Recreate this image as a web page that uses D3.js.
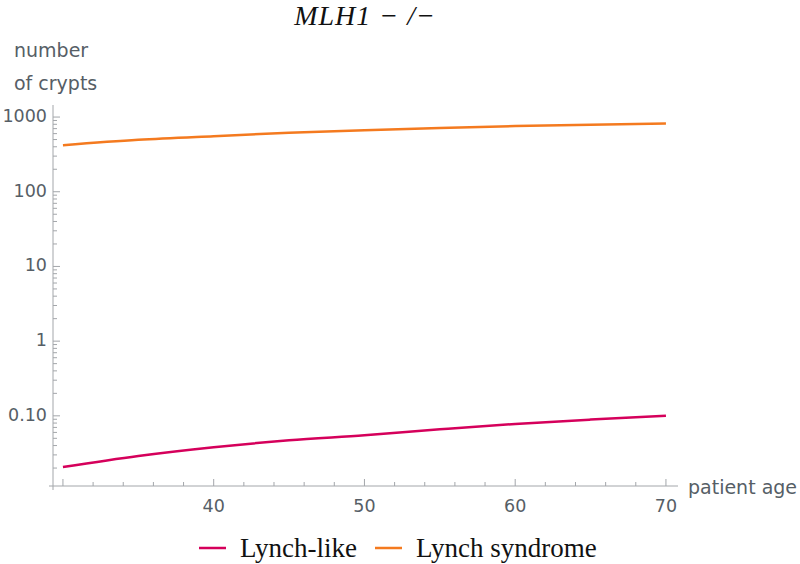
<!DOCTYPE html>
<html>
<head>
<meta charset="utf-8">
<script src="https://cdn.jsdelivr.net/npm/d3@7"></script>
<style>
  body { margin: 0; background: #fff; }
  svg { display: block; }
</style>
</head>
<body>
<div id="canvas"></div>
<script>
// patient age, and crypt counts
const ages = [30, 35, 40, 45, 50, 55, 60, 65, 70];
const lynchLike = [0.0206, 0.029, 0.038, 0.047, 0.055, 0.066, 0.078, 0.089, 0.100];
const lynchSyndrome = [420, 495, 555, 615, 668, 715, 757, 790, 818];
const seriesNames = ["Lynch-like", "Lynch syndrome"];
const seriesColors = ["#d5005b", "#f47a1f"];
const xTicks = [40, 50, 60, 70];
const yTicks = [0.1, 1, 10, 100, 1000];
const yTickLabels = ["0.10", "1", "10", "100", "1000"];

const width = 800, height = 564;
const margin = { top: 105, left: 53, bottom: 78, right: 122 };
const iwidth = width - margin.left - margin.right;
const iheight = height - margin.top - margin.bottom;

const svg = d3.select("#canvas").append("svg")
  .attr("width", width).attr("height", height);

const g = svg.append("g").attr("transform", `translate(${margin.left},${margin.top})`);

const x = d3.scaleLinear().domain([29.34, 70.8]).range([0, iwidth]);
const y = d3.scaleLog().domain([0.0115, 1450]).range([iheight, 0]);

const axisColor = "#a3a6aa";
const textColor = "#565e66";
const sans = "'DejaVu Sans', Verdana, sans-serif";
const serif = "'Liberation Serif', 'DejaVu Serif', serif";

// axes lines
g.append("line").attr("x1", 0).attr("x2", 0).attr("y1", 0).attr("y2", iheight + 4)
  .attr("stroke", axisColor).attr("stroke-width", 1);
g.append("line").attr("x1", -4).attr("x2", iwidth).attr("y1", iheight).attr("y2", iheight)
  .attr("stroke", axisColor).attr("stroke-width", 1);

// x ticks (inside, pointing up)
const xMinor = d3.range(30, 71, 2);
g.selectAll(".xminor").data(xMinor).enter().append("line")
  .attr("x1", d => x(d)).attr("x2", d => x(d))
  .attr("y1", iheight).attr("y2", d => iheight - (d % 10 === 0 ? 7 : 4))
  .attr("stroke", axisColor);
g.selectAll(".xlab").data(xTicks).enter().append("text")
  .attr("x", d => x(d)).attr("y", iheight + 26)
  .attr("text-anchor", "middle").attr("font-family", sans).attr("font-size", 17.5)
  .attr("fill", textColor).text(d => d);

// y ticks (log minors)
const yMinor = [];
[0.01, 0.1, 1, 10, 100, 1000].forEach(dec => {
  for (let k = 1; k <= 9; k++) {
    const v = dec * k;
    if (v >= y.domain()[0] && v <= y.domain()[1]) yMinor.push(v);
  }
});
g.selectAll(".yminor").data(yMinor).enter().append("line")
  .attr("x1", 0).attr("x2", d => (yTicks.some(t => Math.abs(t - d) < 1e-9) ? 7 : 4))
  .attr("y1", d => y(d)).attr("y2", d => y(d))
  .attr("stroke", axisColor);
g.selectAll(".ylab").data(yTicks).enter().append("text")
  .attr("x", -6).attr("y", d => y(d) + 5)
  .attr("text-anchor", "end").attr("font-family", sans).attr("font-size", 17.5)
  .attr("fill", textColor).text((d, i) => yTickLabels[i]);

// axis labels
svg.append("text").attr("x", 14).attr("y", 57).attr("font-family", sans).attr("font-size", 19)
  .attr("fill", textColor).text("number");
svg.append("text").attr("x", 14).attr("y", 90).attr("font-family", sans).attr("font-size", 19)
  .attr("fill", textColor).text("of crypts");
svg.append("text").attr("x", 688).attr("y", 494).attr("font-family", sans).attr("font-size", 19)
  .attr("fill", textColor).text("patient age");

// title
svg.append("text").attr("x", 365).attr("y", 25).attr("text-anchor", "middle")
  .attr("font-family", serif).attr("font-style", "italic").attr("font-size", 28)
  .attr("letter-spacing", 1)
  .attr("fill", "#111").text("MLH1 − /−");

// curves
const line = d3.line().x(d => x(d[0])).y(d => y(d[1])).curve(d3.curveMonotoneX);
[lynchLike, lynchSyndrome].forEach((vals, i) => {
  g.append("path")
    .datum(ages.map((a, j) => [a, vals[j]]))
    .attr("fill", "none").attr("stroke", seriesColors[i]).attr("stroke-width", 2.5)
    .attr("d", line);
});

// legend
const legendX = [199, 375];
seriesNames.forEach((name, i) => {
  const lg = svg.append("g").attr("transform", `translate(${legendX[i]},548)`);
  lg.append("line").attr("x1", 0).attr("x2", 27).attr("y1", 0).attr("y2", 0)
    .attr("stroke", seriesColors[i]).attr("stroke-width", 2.5);
  lg.append("text").attr("x", 41).attr("y", 9).attr("font-family", serif).attr("font-size", 27)
    .attr("fill", "#111").text(name);
});
</script>
</body>
</html>
